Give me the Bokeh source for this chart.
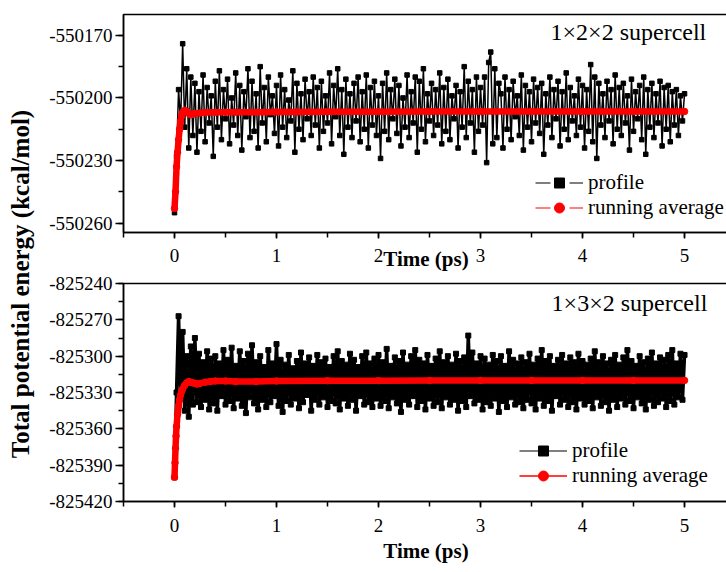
import math
import numpy as np
from bokeh.plotting import figure
from bokeh.models import (Range1d, LinearAxis, SingleIntervalTicker, PrintfTickFormatter,
                          Legend, LegendItem, Label, ColumnDataSource)
from bokeh.layouts import row, column
from bokeh.embed import file_html
from bokeh.resources import INLINE

FONT = "Liberation Serif"

# ---------------- data ----------------
time_ps = np.round(np.arange(251) * 0.02, 2)

top_profile = [
    -550255, -550228, -550196, -550212, -550174, -550214, -550186, -550224, -550190, -550218,
    -550193, -550226, -550197, -550216, -550189, -550221, -550195, -550212, -550199, -550228,
    -550192, -550214, -550187, -550220, -550196, -550210, -550191, -550222, -550200, -550213,
    -550188, -550218, -550194, -550225, -550197, -550209, -550186, -550219, -550192, -550216,
    -550198, -550224, -550185, -550212, -550195, -550221, -550190, -550208, -550199, -550217,
    -550194, -550223, -550189, -550214, -550196, -550219, -550201, -550211, -550187, -550226,
    -550193, -550215, -550198, -550220, -550191, -550210, -550197, -550218, -550190, -550213,
    -550195, -550224, -550192, -550216, -550199, -550212, -550188, -550222, -550194, -550209,
    -550186, -550218, -550196, -550227, -550191, -550214, -550198, -550219, -550193, -550211,
    -550190, -550221, -550197, -550215, -550189, -550224, -550195, -550213, -550192, -550218,
    -550199, -550229, -550193, -550216, -550188, -550220, -550196, -550210, -550191, -550217,
    -550194, -550223, -550200, -550214, -550189, -550219, -550197, -550212, -550190, -550226,
    -550192, -550215, -550186, -550221, -550198, -550211, -550193, -550218, -550196, -550213,
    -550188, -550222, -550195, -550216, -550191, -550220, -550199, -550210, -550194, -550224,
    -550197, -550214, -550185, -550219, -550192, -550212, -550196, -550226, -550190, -550216,
    -550195, -550213, -550190, -550231, -550183, -550178, -550222, -550186, -550219, -550193,
    -550198, -550224, -550190, -550215, -550196, -550220, -550192, -550209, -550199, -550218,
    -550189, -550225, -550194, -550214, -550197, -550221, -550191, -550212, -550195, -550217,
    -550193, -550227, -550198, -550213, -550190, -550219, -550196, -550210, -550192, -550223,
    -550197, -550215, -550188, -550220, -550195, -550211, -550199, -550218, -550191, -550214,
    -550194, -550224, -550196, -550216, -550184, -550221, -550190, -550229, -550193, -550213,
    -550198, -550219, -550192, -550211, -550196, -550222, -550189, -550215, -550195, -550218,
    -550193, -550212, -550199, -550225, -550191, -550216, -550197, -550210, -550194, -550220,
    -550190, -550227, -550196, -550214, -550193, -550219, -550198, -550212, -550192, -550223,
    -550195, -550215, -550194, -550221, -550197, -550213, -550196, -550218, -550199, -550211,
    -550198,
]

top_avg_time = [0, 0.01, 0.02, 0.03, 0.04, 0.05, 0.06, 0.07, 0.08, 0.09,
                0.1, 0.12, 0.14, 0.16, 0.18, 0.2, 0.25, 0.3, 0.4, 0.5, 0.6, 0.8,
                1.0, 1.2, 1.5, 2.0, 2.5, 3.0, 3.5, 4.0, 4.5, 5.0]
top_avg = [-550253, -550245, -550233, -550226, -550220, -550215, -550211, -550208.5, -550207, -550206.3,
           -550206, -550206.5, -550207.5, -550208, -550207.8, -550207.4, -550207.2, -550207, -550206.9,
           -550206.9, -550206.8, -550206.8, -550206.7, -550206.7, -550206.6, -550206.6, -550206.5,
           -550206.5, -550206.5, -550206.5, -550206.5, -550206.5]

bot_profile = [
    -825400, -825330, -825267, -825335, -825280, -825345, -825300, -825350, -825292, -825340,
    -825285, -825338, -825298, -825342, -825305, -825336, -825296, -825344, -825302, -825339,
    -825300, -825345, -825306, -825333, -825295, -825340, -825303, -825337, -825293, -825343,
    -825308, -825335, -825296, -825341, -825304, -825347, -825298, -825334, -825291, -825339,
    -825305, -825344, -825300, -825336, -825309, -825342, -825295, -825338, -825306, -825333,
    -825290, -825341, -825303, -825346, -825307, -825337, -825299, -825340, -825310, -825335,
    -825304, -825343, -825297, -825338, -825306, -825332, -825301, -825345, -825308, -825336,
    -825299, -825340, -825305, -825334, -825302, -825342, -825309, -825337, -825300, -825339,
    -825296, -825344, -825304, -825335, -825307, -825341, -825298, -825336, -825303, -825345,
    -825309, -825333, -825300, -825340, -825297, -825338, -825306, -825342, -825302, -825335,
    -825299, -825341, -825305, -825337, -825294, -825343, -825308, -825334, -825301, -825339,
    -825304, -825346, -825297, -825336, -825307, -825340, -825300, -825333, -825295, -825342,
    -825303, -825337, -825306, -825344, -825299, -825335, -825308, -825341, -825302, -825338,
    -825296, -825343, -825305, -825334, -825300, -825340, -825307, -825336, -825298, -825345,
    -825304, -825337, -825301, -825342, -825283, -825333, -825297, -825339, -825306, -825336,
    -825300, -825344, -825302, -825338, -825307, -825341, -825299, -825335, -825304, -825346,
    -825300, -825337, -825308, -825342, -825296, -825334, -825303, -825340, -825306, -825338,
    -825301, -825343, -825305, -825336, -825298, -825339, -825307, -825344, -825302, -825335,
    -825295, -825341, -825304, -825337, -825300, -825345, -825308, -825333, -825303, -825340,
    -825299, -825336, -825306, -825342, -825301, -825338, -825305, -825344, -825298, -825335,
    -825304, -825340, -825307, -825337, -825302, -825343, -825296, -825334, -825305, -825341,
    -825300, -825338, -825306, -825345, -825303, -825336, -825299, -825342, -825307, -825335,
    -825301, -825340, -825295, -825337, -825304, -825343, -825308, -825334, -825300, -825339,
    -825305, -825344, -825302, -825336, -825297, -825341, -825306, -825338, -825301, -825335,
    -825303, -825342, -825299, -825337, -825295, -825340, -825306, -825334, -825298, -825336,
    -825299,
]

bot_avg_time = [0, 0.005, 0.01, 0.015, 0.02, 0.03, 0.04, 0.05, 0.06, 0.07, 0.08, 0.1, 0.12,
                0.14, 0.16, 0.18, 0.2, 0.22, 0.25, 0.3, 0.35, 0.4, 0.5, 0.6, 0.8, 1.0,
                1.5, 2.0, 2.5, 3.0, 3.5, 4.0, 4.5, 5.0]
bot_avg = [-825400, -825388, -825376, -825366, -825358, -825348, -825341, -825336, -825332,
           -825329, -825327, -825324, -825322, -825321, -825321.5, -825322, -825322.5, -825323,
           -825322.5, -825321.5, -825321, -825320.5, -825320.5, -825321, -825321, -825320.5,
           -825320.3, -825320.2, -825320.1, -825320, -825320, -825320, -825320, -825320]

series_labels = ["profile", "running average"]
panel_titles = ["1\u00d72\u00d72 supercell", "1\u00d73\u00d72 supercell"]
x_label = "Time (ps)"
y_label = "Total potential energy (kcal/mol)"


def style_axes(p, tick_standoff, xlabel_standoff):
    xax = LinearAxis(ticker=SingleIntervalTicker(interval=1, num_minor_ticks=2))
    yax = LinearAxis(ticker=SingleIntervalTicker(interval=30, num_minor_ticks=2),
                     formatter=PrintfTickFormatter(format="%d"))
    for ax in (xax, yax):
        ax.axis_line_color = "black"
        ax.axis_line_width = 1.5
        ax.major_tick_line_color = "black"
        ax.minor_tick_line_color = "black"
        ax.major_tick_line_width = 1.5
        ax.minor_tick_line_width = 1.5
        ax.major_label_text_font = FONT
        ax.major_label_text_font_size = "19px"
        ax.major_label_text_color = "black"
    xax.major_tick_in = 0
    xax.major_tick_out = 6
    xax.minor_tick_in = 0
    xax.minor_tick_out = 5
    xax.major_label_standoff = tick_standoff
    xax.axis_label = x_label
    xax.axis_label_text_font = FONT
    xax.axis_label_text_font_style = "bold"
    xax.axis_label_text_font_size = "21px"
    xax.axis_label_text_color = "black"
    xax.axis_label_standoff = xlabel_standoff
    yax.major_tick_in = 0
    yax.major_tick_out = 8
    yax.minor_tick_in = 0
    yax.minor_tick_out = 5
    yax.major_label_standoff = 3
    p.add_layout(xax, "below")
    p.add_layout(yax, "left")


def make_panel(border_top, border_bottom, yr, profile, avg_t, avg, title, title_xy,
               prof_lw, prof_ms, legend_loc, legend_style, tick_standoff, xlabel_standoff):
    p = figure(frame_width=605, frame_height=218, x_range=Range1d(-0.5, 5.431),
               y_range=Range1d(*yr), title=None,
               output_backend="svg", toolbar_location=None, x_axis_type=None, y_axis_type=None,
               min_border_left=72, min_border_right=2, min_border_top=border_top,
               min_border_bottom=border_bottom)
    p.outline_line_color = "black"
    p.outline_line_width = 1.5
    p.background_fill_color = "white"
    p.border_fill_color = "white"
    style_axes(p, tick_standoff, xlabel_standoff)

    src = ColumnDataSource(dict(t=time_ps, e=profile))
    p.line("t", "e", source=src, line_color="black", line_width=prof_lw)
    p.scatter("t", "e", source=src, marker="square", size=prof_ms, color="black")
    asrc = ColumnDataSource(dict(t=avg_t, e=avg))
    p.line("t", "e", source=asrc, line_color="red", line_width=6.5)
    p.scatter("t", "e", source=asrc, marker="circle", size=6.5, color="red")

    # legend swatches (single off-range point so that the swatch is drawn)
    off_x = [-10.0]
    off_y = [yr[0] - 1000]
    if legend_style == "gap":
        l1 = p.line(x=off_x, y=off_y, line_color="black", line_width=1.2, line_dash="15 19")
        m1 = p.scatter(x=off_x, y=off_y, marker="square", size=4, color="black")
        l2 = p.line(x=off_x, y=off_y, line_color="red", line_width=1.2, line_dash="15 19")
        m2 = p.scatter(x=off_x, y=off_y, marker="circle", size=4, color="red")
    else:
        l1 = p.line(x=off_x, y=off_y, line_color="#555555", line_width=1.5)
        m1 = p.scatter(x=off_x, y=off_y, marker="square", size=6, color="black")
        l2 = p.line(x=off_x, y=off_y, line_color="red", line_width=1.5)
        m2 = p.scatter(x=off_x, y=off_y, marker="circle", size=6, color="red")
    legend = Legend(items=[LegendItem(label=series_labels[0], renderers=[l1, m1]),
                           LegendItem(label=series_labels[1], renderers=[l2, m2])],
                    location=legend_loc, glyph_width=48, glyph_height=25, label_height=25,
                    label_standoff=5, spacing=0, padding=0, margin=0,
                    border_line_alpha=0, background_fill_alpha=0,
                    label_text_font=FONT, label_text_font_size="21px",
                    label_text_color="black")
    p.add_layout(legend)
    p.add_layout(Label(x=title_xy[0], y=title_xy[1], text=title, text_font=FONT,
                       text_font_size="24px", text_align="center", text_baseline="middle",
                       text_color="black"))
    return p


p1 = make_panel(14, 38, (-550264.5, -550160), top_profile, top_avg_time, top_avg,
                panel_titles[0], (4.45, -550168.6), 1.5, 4.5, (412, 12), "gap", 10, -18)
p2 = make_panel(10, 50, (-825420, -825240), bot_profile, bot_avg_time, bot_avg,
                panel_titles[1], (4.46, -825256.5), 3.5, 5, (396, 13), "solid", 11, 4)

lab = figure(frame_width=46, frame_height=567, x_range=Range1d(0, 1), y_range=Range1d(0, 1),
             title=None, output_backend="svg", toolbar_location=None, x_axis_type=None,
             y_axis_type=None, min_border=0)
lab.outline_line_color = None
lab.add_layout(Label(x=0.43, y=0.5, text=y_label, angle=math.pi / 2, text_align="center",
                     text_baseline="middle", text_font=FONT, text_font_style="bold",
                     text_font_size="25px", text_color="black"))

layout = row(lab, column(p1, p2))
open("out.html", "w").write(file_html(layout, INLINE))
